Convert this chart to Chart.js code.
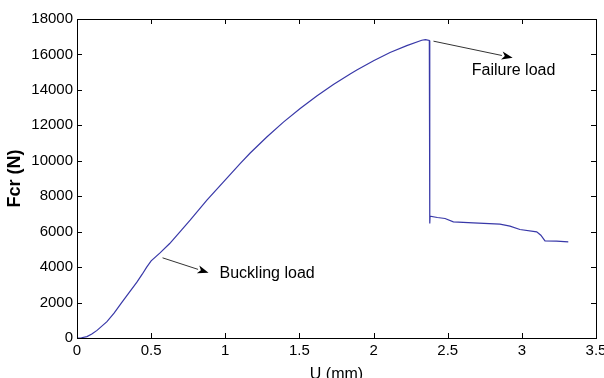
<!DOCTYPE html>
<html>
<head>
<meta charset="utf-8">
<script src="https://cdn.jsdelivr.net/npm/chart.js@4.4.0/dist/chart.umd.min.js"></script>
<style>
    html, body { margin: 0; padding: 0; background: #fff; }
    canvas { display: block; }
</style>
</head>
<body>
<canvas id="chart" width="604" height="378"></canvas>
<script>
// displacement U (mm) and load Fcr (N)
const u_mm = [
    0, 0.03, 0.067, 0.10, 0.135, 0.202, 0.25, 0.30, 0.35, 0.404, 0.44, 0.47, 0.50,
    0.56, 0.625, 0.70, 0.763, 0.876, 0.988, 1.10, 1.168, 1.28, 1.392, 1.505, 1.617,
    1.729, 1.842, 1.887, 2.0, 2.111, 2.224, 2.325, 2.35, 2.376,
    2.379, 2.381, 2.43, 2.482, 2.538, 2.672, 2.852, 2.92, 2.987, 3.10, 3.128, 3.156,
    3.234, 3.313
];
const fcr_n = [
    0, 15, 80, 220, 430, 920, 1400, 1980, 2550, 3150, 3600, 4000, 4350,
    4800, 5330, 6050, 6648, 7775, 8806, 9842, 10440, 11340, 12180, 12950, 13660,
    14300, 14900, 15120, 15640, 16110, 16500, 16800, 16840, 16789,
    6462, 6873, 6800, 6744, 6553, 6496, 6423, 6310, 6124, 5989, 5803, 5482,
    5465, 5425
];

const xTicksStep = 0.5;
const yTicksStep = 2000;

// annotation arrows, in data units
const notes = [
    { text: 'Buckling load', from: [0.577, 4524], to: [0.887, 3680], at: [0.961, 3645] },
    { text: 'Failure load', from: [2.404, 16749], to: [2.938, 15814], at: [2.662, 15099] }
];

const boxPlugin = {
    id: 'box',
    afterDraw(chart) {
        const ctx = chart.ctx;
        const a = chart.chartArea;
        const xs = chart.scales.x;
        const ys = chart.scales.y;
        const tl = 5;

        ctx.save();
        ctx.strokeStyle = '#000';
        ctx.lineWidth = 1;
        ctx.strokeRect(Math.round(a.left) + 0.5, Math.round(a.top) + 0.5,
            Math.round(a.right - a.left), Math.round(a.bottom - a.top));

        ctx.beginPath();
        xs.ticks.forEach(t => {
            const px = Math.round(xs.getPixelForValue(t.value)) + 0.5;
            ctx.moveTo(px, a.bottom); ctx.lineTo(px, a.bottom - tl);
            ctx.moveTo(px, a.top); ctx.lineTo(px, a.top + tl);
        });
        ys.ticks.forEach(t => {
            const py = Math.round(ys.getPixelForValue(t.value)) + 0.5;
            ctx.moveTo(a.left, py); ctx.lineTo(a.left + tl, py);
            ctx.moveTo(a.right, py); ctx.lineTo(a.right - tl, py);
        });
        ctx.stroke();

        // arrows and their labels
        notes.forEach(n => {
            const x1 = xs.getPixelForValue(n.from[0]), y1 = ys.getPixelForValue(n.from[1]);
            const x2 = xs.getPixelForValue(n.to[0]), y2 = ys.getPixelForValue(n.to[1]);
            const ang = Math.atan2(y2 - y1, x2 - x1);
            const hl = 11, hw = 4;
            const bx = x2 - hl * Math.cos(ang), by = y2 - hl * Math.sin(ang);

            ctx.beginPath();
            ctx.moveTo(x1, y1);
            ctx.lineTo(bx, by);
            ctx.strokeStyle = '#333';
            ctx.lineWidth = 1;
            ctx.stroke();

            ctx.beginPath();
            ctx.moveTo(x2, y2);
            ctx.lineTo(bx + hw * Math.sin(ang), by - hw * Math.cos(ang));
            ctx.lineTo(bx + 3 * Math.cos(ang), by + 3 * Math.sin(ang));
            ctx.lineTo(bx - hw * Math.sin(ang), by + hw * Math.cos(ang));
            ctx.closePath();
            ctx.fillStyle = '#000';
            ctx.fill();

            ctx.font = '16px "Liberation Sans", Arial, sans-serif';
            ctx.fillStyle = '#000';
            ctx.textAlign = 'left';
            ctx.textBaseline = 'middle';
            ctx.fillText(n.text, xs.getPixelForValue(n.at[0]), ys.getPixelForValue(n.at[1]));
        });
        ctx.restore();
    }
};

const tickFont = { family: '"Liberation Sans", Arial, sans-serif', size: 15 };

new Chart(document.getElementById('chart').getContext('2d'), {
    type: 'line',
    data: {
        datasets: [{
            data: u_mm.map((u, i) => ({ x: u, y: fcr_n[i] })),
            borderColor: '#3838a8',
            borderWidth: 1.2,
            pointRadius: 0,
            tension: 0,
            fill: false
        }]
    },
    options: {
        responsive: false,
        animation: false,
        layout: { padding: { top: 19, right: 8, left: 0, bottom: 0 } },
        plugins: {
            legend: { display: false },
            tooltip: { enabled: false }
        },
        scales: {
            x: {
                type: 'linear',
                min: 0,
                max: 3.5,
                grid: { display: false, drawTicks: false },
                border: { display: false },
                ticks: {
                    stepSize: xTicksStep,
                    color: '#000',
                    font: tickFont,
                    padding: 4,
                    maxRotation: 0,
                    callback: v => String(v)
                },
                title: {
                    display: true,
                    text: 'U (mm)',
                    color: '#000',
                    font: { family: '"Liberation Sans", Arial, sans-serif', size: 16, lineHeight: 1 },
                    padding: { top: 0, bottom: -5 }
                },
                afterFit: s => { s.height = 40; s.paddingLeft = 0; s.paddingRight = 0; }
            },
            y: {
                min: 0,
                max: 18000,
                grid: { display: false, drawTicks: false },
                border: { display: false },
                ticks: {
                    stepSize: yTicksStep,
                    color: '#000',
                    font: tickFont,
                    padding: 4,
                    callback: v => String(v)
                },
                title: {
                    display: true,
                    text: 'Fcr (N)',
                    color: '#000',
                    font: { family: '"Liberation Sans", Arial, sans-serif', size: 18, weight: 'bold', lineHeight: 1 },
                    padding: { top: 6, bottom: 0 }
                },
                afterFit: s => { s.width = 77; }
            }
        }
    },
    plugins: [boxPlugin]
});
</script>
</body>
</html>
